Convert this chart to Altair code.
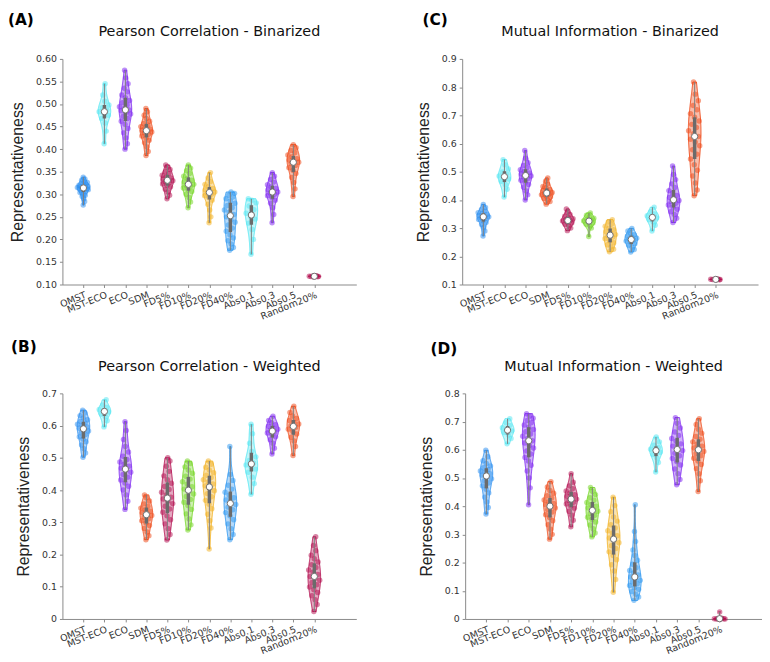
import json
import numpy as np
import pandas as pd
import altair as alt

CATS = ["OMST", "MST-ECO", "ECO", "SDM", "FD5%", "FD10%", "FD20%", "FD40%",
        "Abs0.1", "Abs0.3", "Abs0.5", "Random20%"]
COLORS = ["#2a8ef0", "#4fe6f2", "#7b22f0", "#ee4412", "#b10a4c", "#6fd41c",
          "#f2b01e", "#2a95f0", "#4fe6f2", "#7b22f0", "#ee4412", "#b10a4c"]

# (A) Pearson Correlation - Binarized
PC_BIN = [
    [0.276,0.284,0.290,0.295,0.298,0.301,0.304,0.306,0.308,0.310,0.311,0.312,0.313,0.314,0.315,0.316,0.317,0.318,0.319,0.320,0.322,0.324,0.326,0.328,0.331,0.334,0.338],
    [0.412,0.440,0.458,0.468,0.475,0.480,0.483,0.487,0.492,0.498,0.506,0.520,0.545],
    [0.400,0.412,0.425,0.436,0.446,0.455,0.462,0.468,0.473,0.478,0.482,0.485,0.487,0.490,0.494,0.498,0.503,0.508,0.514,0.520,0.527,0.535,0.545,0.558,0.575],
    [0.386,0.395,0.405,0.414,0.420,0.425,0.429,0.433,0.436,0.438,0.440,0.442,0.444,0.447,0.450,0.453,0.457,0.462,0.468,0.475,0.483,0.490],
    [0.290,0.298,0.305,0.311,0.316,0.320,0.323,0.326,0.328,0.330,0.332,0.334,0.336,0.339,0.342,0.346,0.350,0.355,0.360,0.365],
    [0.270,0.283,0.293,0.300,0.306,0.310,0.314,0.317,0.320,0.322,0.325,0.328,0.331,0.335,0.340,0.346,0.352,0.358,0.365],
    [0.237,0.250,0.265,0.278,0.287,0.293,0.297,0.300,0.303,0.305,0.307,0.310,0.313,0.317,0.322,0.328,0.336,0.348],
    [0.176,0.182,0.190,0.197,0.203,0.210,0.218,0.225,0.232,0.238,0.244,0.250,0.255,0.260,0.265,0.270,0.275,0.280,0.285,0.290,0.294,0.298,0.302,0.305],
    [0.167,0.200,0.222,0.236,0.245,0.250,0.258,0.266,0.274,0.281,0.287,0.290],
    [0.237,0.255,0.270,0.280,0.287,0.293,0.297,0.300,0.303,0.305,0.307,0.310,0.313,0.317,0.321,0.327,0.333,0.340,0.348],
    [0.295,0.312,0.326,0.337,0.346,0.353,0.359,0.364,0.368,0.371,0.373,0.376,0.379,0.383,0.387,0.392,0.397,0.403,0.410],
    [0.1165,0.1172,0.1176,0.1179,0.1181,0.1183,0.1185,0.1188,0.1192,0.1198],
]

# (C) Mutual Information - Binarized
MI_BIN = [
    [0.272,0.290,0.303,0.313,0.320,0.326,0.331,0.335,0.338,0.340,0.342,0.345,0.348,0.351,0.355,0.360,0.366,0.373,0.384],
    [0.410,0.438,0.455,0.466,0.474,0.480,0.485,0.491,0.499,0.510,0.525,0.543],
    [0.400,0.418,0.432,0.445,0.455,0.463,0.470,0.476,0.481,0.485,0.488,0.492,0.496,0.501,0.507,0.514,0.522,0.532,0.548,0.575],
    [0.385,0.394,0.400,0.405,0.410,0.414,0.418,0.421,0.423,0.426,0.429,0.433,0.437,0.442,0.448,0.456,0.466,0.478],
    [0.291,0.300,0.308,0.314,0.318,0.322,0.325,0.327,0.330,0.333,0.337,0.342,0.348,0.356,0.368],
    [0.270,0.300,0.308,0.314,0.318,0.322,0.325,0.328,0.331,0.335,0.340,0.346,0.354],
    [0.216,0.225,0.233,0.241,0.248,0.255,0.262,0.268,0.273,0.277,0.282,0.288,0.294,0.300,0.307,0.314,0.322,0.330],
    [0.215,0.224,0.232,0.239,0.245,0.250,0.254,0.258,0.261,0.264,0.268,0.272,0.277,0.283,0.290,0.299],
    [0.290,0.310,0.322,0.330,0.336,0.340,0.344,0.350,0.358,0.374],
    [0.320,0.335,0.348,0.358,0.367,0.375,0.382,0.388,0.394,0.398,0.403,0.409,0.416,0.424,0.433,0.444,0.457,0.472,0.490,0.520],
    [0.415,0.435,0.460,0.485,0.505,0.525,0.545,0.562,0.578,0.592,0.605,0.615,0.625,0.635,0.645,0.657,0.668,0.680,0.693,0.706,0.720,0.735,0.752,0.775,0.818],
    [0.1165,0.1172,0.1176,0.1179,0.1181,0.1183,0.1185,0.1188,0.1192,0.1198],
]

# (B) Pearson Correlation - Weighted
PC_WEI = [
    [0.502,0.515,0.528,0.540,0.550,0.558,0.565,0.572,0.578,0.583,0.588,0.592,0.596,0.600,0.604,0.608,0.613,0.618,0.624,0.631,0.639,0.648],
    [0.596,0.615,0.628,0.636,0.642,0.646,0.650,0.656,0.664,0.680],
    [0.340,0.365,0.385,0.400,0.412,0.422,0.431,0.440,0.448,0.455,0.462,0.468,0.474,0.480,0.487,0.495,0.505,0.518,0.535,0.557,0.585,0.612],
    [0.246,0.258,0.270,0.281,0.290,0.298,0.305,0.311,0.316,0.321,0.326,0.330,0.334,0.339,0.344,0.350,0.357,0.366,0.376,0.385],
    [0.245,0.262,0.280,0.295,0.308,0.320,0.331,0.341,0.350,0.358,0.366,0.372,0.378,0.385,0.393,0.402,0.411,0.421,0.432,0.444,0.458,0.474,0.490,0.500],
    [0.276,0.292,0.310,0.326,0.340,0.352,0.362,0.371,0.380,0.388,0.396,0.403,0.410,0.418,0.426,0.434,0.443,0.452,0.462,0.472,0.482,0.490],
    [0.217,0.282,0.305,0.325,0.342,0.356,0.368,0.379,0.389,0.398,0.406,0.413,0.419,0.425,0.432,0.439,0.446,0.454,0.462,0.471,0.480,0.490],
    [0.246,0.262,0.280,0.295,0.308,0.320,0.330,0.339,0.347,0.355,0.362,0.369,0.376,0.384,0.393,0.403,0.415,0.430,0.448,0.535],
    [0.387,0.420,0.440,0.455,0.465,0.472,0.478,0.484,0.492,0.503,0.520,0.545,0.575,0.604],
    [0.512,0.530,0.545,0.556,0.565,0.572,0.577,0.581,0.585,0.589,0.593,0.598,0.603,0.609,0.616,0.629],
    [0.507,0.535,0.552,0.564,0.574,0.582,0.589,0.595,0.600,0.605,0.610,0.616,0.622,0.630,0.641,0.660],
    [0.023,0.045,0.060,0.072,0.082,0.091,0.099,0.106,0.113,0.120,0.126,0.132,0.138,0.145,0.152,0.160,0.168,0.177,0.187,0.198,0.212,0.228,0.255],
]

# (D) Mutual Information - Weighted
MI_WEI = [
    [0.372,0.395,0.415,0.432,0.447,0.460,0.472,0.482,0.490,0.497,0.504,0.510,0.515,0.520,0.525,0.530,0.536,0.543,0.551,0.561,0.575,0.598],
    [0.621,0.640,0.652,0.661,0.667,0.672,0.678,0.686,0.696,0.710],
    [0.405,0.465,0.500,0.525,0.545,0.560,0.573,0.585,0.596,0.606,0.615,0.624,0.632,0.640,0.648,0.656,0.664,0.672,0.680,0.688,0.696,0.704,0.712,0.720,0.728],
    [0.283,0.300,0.318,0.334,0.348,0.360,0.370,0.379,0.387,0.394,0.400,0.405,0.410,0.416,0.422,0.429,0.437,0.446,0.456,0.468,0.487],
    [0.327,0.350,0.368,0.382,0.393,0.401,0.408,0.414,0.420,0.425,0.430,0.435,0.441,0.447,0.454,0.462,0.472,0.485,0.515],
    [0.291,0.305,0.320,0.333,0.344,0.353,0.361,0.368,0.375,0.382,0.388,0.394,0.400,0.406,0.413,0.421,0.430,0.441,0.453,0.466],
    [0.095,0.140,0.170,0.192,0.210,0.225,0.238,0.250,0.260,0.270,0.279,0.287,0.295,0.304,0.313,0.323,0.334,0.347,0.362,0.380,0.402,0.432],
    [0.066,0.078,0.088,0.097,0.105,0.112,0.119,0.125,0.131,0.137,0.143,0.149,0.156,0.163,0.172,0.182,0.194,0.208,0.225,0.245,0.275,0.310,0.405],
    [0.521,0.555,0.572,0.583,0.591,0.597,0.602,0.608,0.616,0.628,0.645],
    [0.476,0.495,0.515,0.532,0.546,0.558,0.569,0.579,0.588,0.597,0.605,0.613,0.621,0.630,0.640,0.651,0.663,0.677,0.694,0.714],
    [0.452,0.490,0.515,0.533,0.548,0.560,0.570,0.579,0.587,0.594,0.600,0.606,0.613,0.620,0.628,0.637,0.647,0.659,0.673,0.690,0.710],
    [0.000,0.000,0.000,0.000,0.001,0.001,0.001,0.002,0.002,0.003,0.025],
]

LABEL_EXPR = json.dumps([""] + CATS) + "[datum.value]"
HALF = 0.3  # violin half-width in category units


def kde_weight(vals):
    v = np.asarray(vals, float)
    n = len(v)
    sd = v.std(ddof=1)
    q1, q3 = np.percentile(v, [25, 75])
    h = min(sd, (q3 - q1) / 1.34) or sd or 1.0
    bw = 1.06 * h * n ** -0.2
    grid = np.linspace(v.min(), v.max(), 200)
    dens = lambda x: np.exp(-0.5 * ((x[:, None] - v[None, :]) / bw) ** 2).sum(1)
    return dens(v) / dens(grid).max()


def panel(groups, ydom, yvals, ylab, title, tag, tag_dx, tag_dy, width, height):
    rows = []
    for k, (cat, vals) in enumerate(zip(CATS, groups)):
        vals = sorted(vals)
        w = kde_weight(vals)
        for i, v in enumerate(vals):
            u = 2 * ((i * 0.6180339887 + 0.37) % 1.0) - 1
            rows.append(dict(cat=cat, idx=k + 1, v=v, w=float(min(w[i], 1.0)), u=u))
    df = pd.DataFrame(rows)

    xs = alt.Scale(domain=[0, 14], nice=False, zero=False)
    ys = alt.Scale(domain=ydom, nice=False, zero=False)
    xaxis = alt.Axis(values=list(range(1, 13)), labelExpr=LABEL_EXPR, labelAngle=338,
                     labelAlign="right", labelBaseline="top", title=None, tickSize=3,
                     labelPadding=2, grid=False, labelOverlap=False)
    yaxis = alt.Axis(values=yvals, labelExpr=ylab, title="Representativeness",
                     tickSize=3, labelPadding=3, titlePadding=10, grid=False)
    color = alt.Color("cat:N", scale=alt.Scale(domain=CATS, range=COLORS), legend=None)
    stroke = alt.Stroke("cat:N", scale=alt.Scale(domain=CATS, range=COLORS), legend=None)

    base = alt.Chart(df)
    violin = (
        base.transform_joinaggregate(gmin="min(v)", gmax="max(v)", groupby=["cat"])
        .transform_calculate(t="(datum.v - datum.gmin) / (datum.gmax - datum.gmin)")
        .transform_density("t", groupby=["cat", "idx", "gmin", "gmax"], as_=["t", "dens"],
                           extent=[0, 1], steps=120)
        .transform_joinaggregate(maxd="max(dens)", groupby=["cat"])
        .transform_calculate(vv="datum.gmin + datum.t * (datum.gmax - datum.gmin)",
                             lo=f"datum.idx - {HALF}*datum.dens/datum.maxd",
                             hi=f"datum.idx + {HALF}*datum.dens/datum.maxd")
        .mark_area(orient="horizontal", fillOpacity=0.35, strokeWidth=1, strokeOpacity=0.9)
        .encode(x=alt.X("lo:Q", scale=xs, axis=xaxis), x2="hi:Q",
                y=alt.Y("vv:Q", scale=ys, axis=yaxis), fill=color, stroke=stroke)
    )
    points = (
        base.transform_calculate(px=f"datum.idx + {HALF}*datum.w*datum.u")
        .mark_circle(size=30, opacity=0.5)
        .encode(x=alt.X("px:Q", scale=xs, axis=xaxis), y=alt.Y("v:Q", scale=ys, axis=yaxis),
                color=color)
    )
    stats = base.transform_aggregate(q1="q1(v)", q3="q3(v)", med="median(v)",
                                     vmin="min(v)", vmax="max(v)", groupby=["cat", "idx"])
    whisk = stats.mark_rule(color="#808080", strokeWidth=1).encode(
        x=alt.X("idx:Q", scale=xs, axis=xaxis), y=alt.Y("vmin:Q", scale=ys, axis=yaxis), y2="vmax:Q")
    box = stats.mark_rule(color="#6b6b6b", strokeWidth=3.5).encode(
        x=alt.X("idx:Q", scale=xs, axis=xaxis), y=alt.Y("q1:Q", scale=ys, axis=yaxis), y2="q3:Q")
    med = stats.mark_circle(fill="white", stroke="#707070", strokeWidth=1, size=40, opacity=1).encode(
        x=alt.X("idx:Q", scale=xs, axis=xaxis), y=alt.Y("med:Q", scale=ys, axis=yaxis))

    tag_layer = alt.Chart(pd.DataFrame({"t": [tag]})).mark_text(
        align="left", baseline="middle", fontSize=15.5, fontWeight="bold",
        font="DejaVu Sans", color="#000000").encode(
        text="t:N", x=alt.value(tag_dx), y=alt.value(tag_dy))
    title_layer = alt.Chart(pd.DataFrame({"t": [title]})).mark_text(
        align="center", baseline="middle", fontSize=14.5, font="DejaVu Sans",
        color="#111111").encode(text="t:N", x=alt.value(width / 2), y=alt.value(-27))

    return alt.layer(violin, points, whisk, box, med, tag_layer, title_layer).properties(
        width=width, height=height)


fmt2 = "format(datum.value, '.2f')"
fmt1 = "datum.value == 0 ? '0' : format(datum.value, '.1f')"

pA = panel(PC_BIN, [0.1, 0.6], [0.10, 0.15, 0.20, 0.25, 0.30, 0.35, 0.40, 0.45, 0.50, 0.55, 0.60],
           fmt2, "Pearson Correlation - Binarized", "(A)", -55, -39, 297, 228)
pC = panel(MI_BIN, [0.1, 0.9], [0.1, 0.2, 0.3, 0.4, 0.5, 0.6, 0.7, 0.8, 0.9],
           fmt1, "Mutual Information - Binarized", "(C)", -40, -39, 299, 228)
pB = panel(PC_WEI, [0.0, 0.7], [0, 0.1, 0.2, 0.3, 0.4, 0.5, 0.6, 0.7],
           fmt1, "Pearson Correlation - Weighted", "(B)", -52, -47, 297, 228)
pD = panel(MI_WEI, [0.0, 0.8], [0, 0.1, 0.2, 0.3, 0.4, 0.5, 0.6, 0.7, 0.8],
           fmt1, "Mutual Information - Weighted", "(D)", -35, -45, 300, 228)

chart = alt.vconcat(
    alt.hconcat(pA, pC, spacing=59),
    alt.hconcat(pB, pD, spacing=62),
    spacing=19,
).properties(padding={"top": 2, "left": 0, "right": 0, "bottom": 0}).configure_view(
    stroke=None).configure_axis(
    domainColor="#8a8a8a", tickColor="#8a8a8a", labelFont="DejaVu Sans", labelFontSize=9.5,
    labelColor="#333333", titleFont="Liberation Sans", titleFontSize=16,
    titleFontWeight="normal", titleColor="#222222",
)

chart.save("out.html", embed_options={"renderer": "svg", "actions": False})
